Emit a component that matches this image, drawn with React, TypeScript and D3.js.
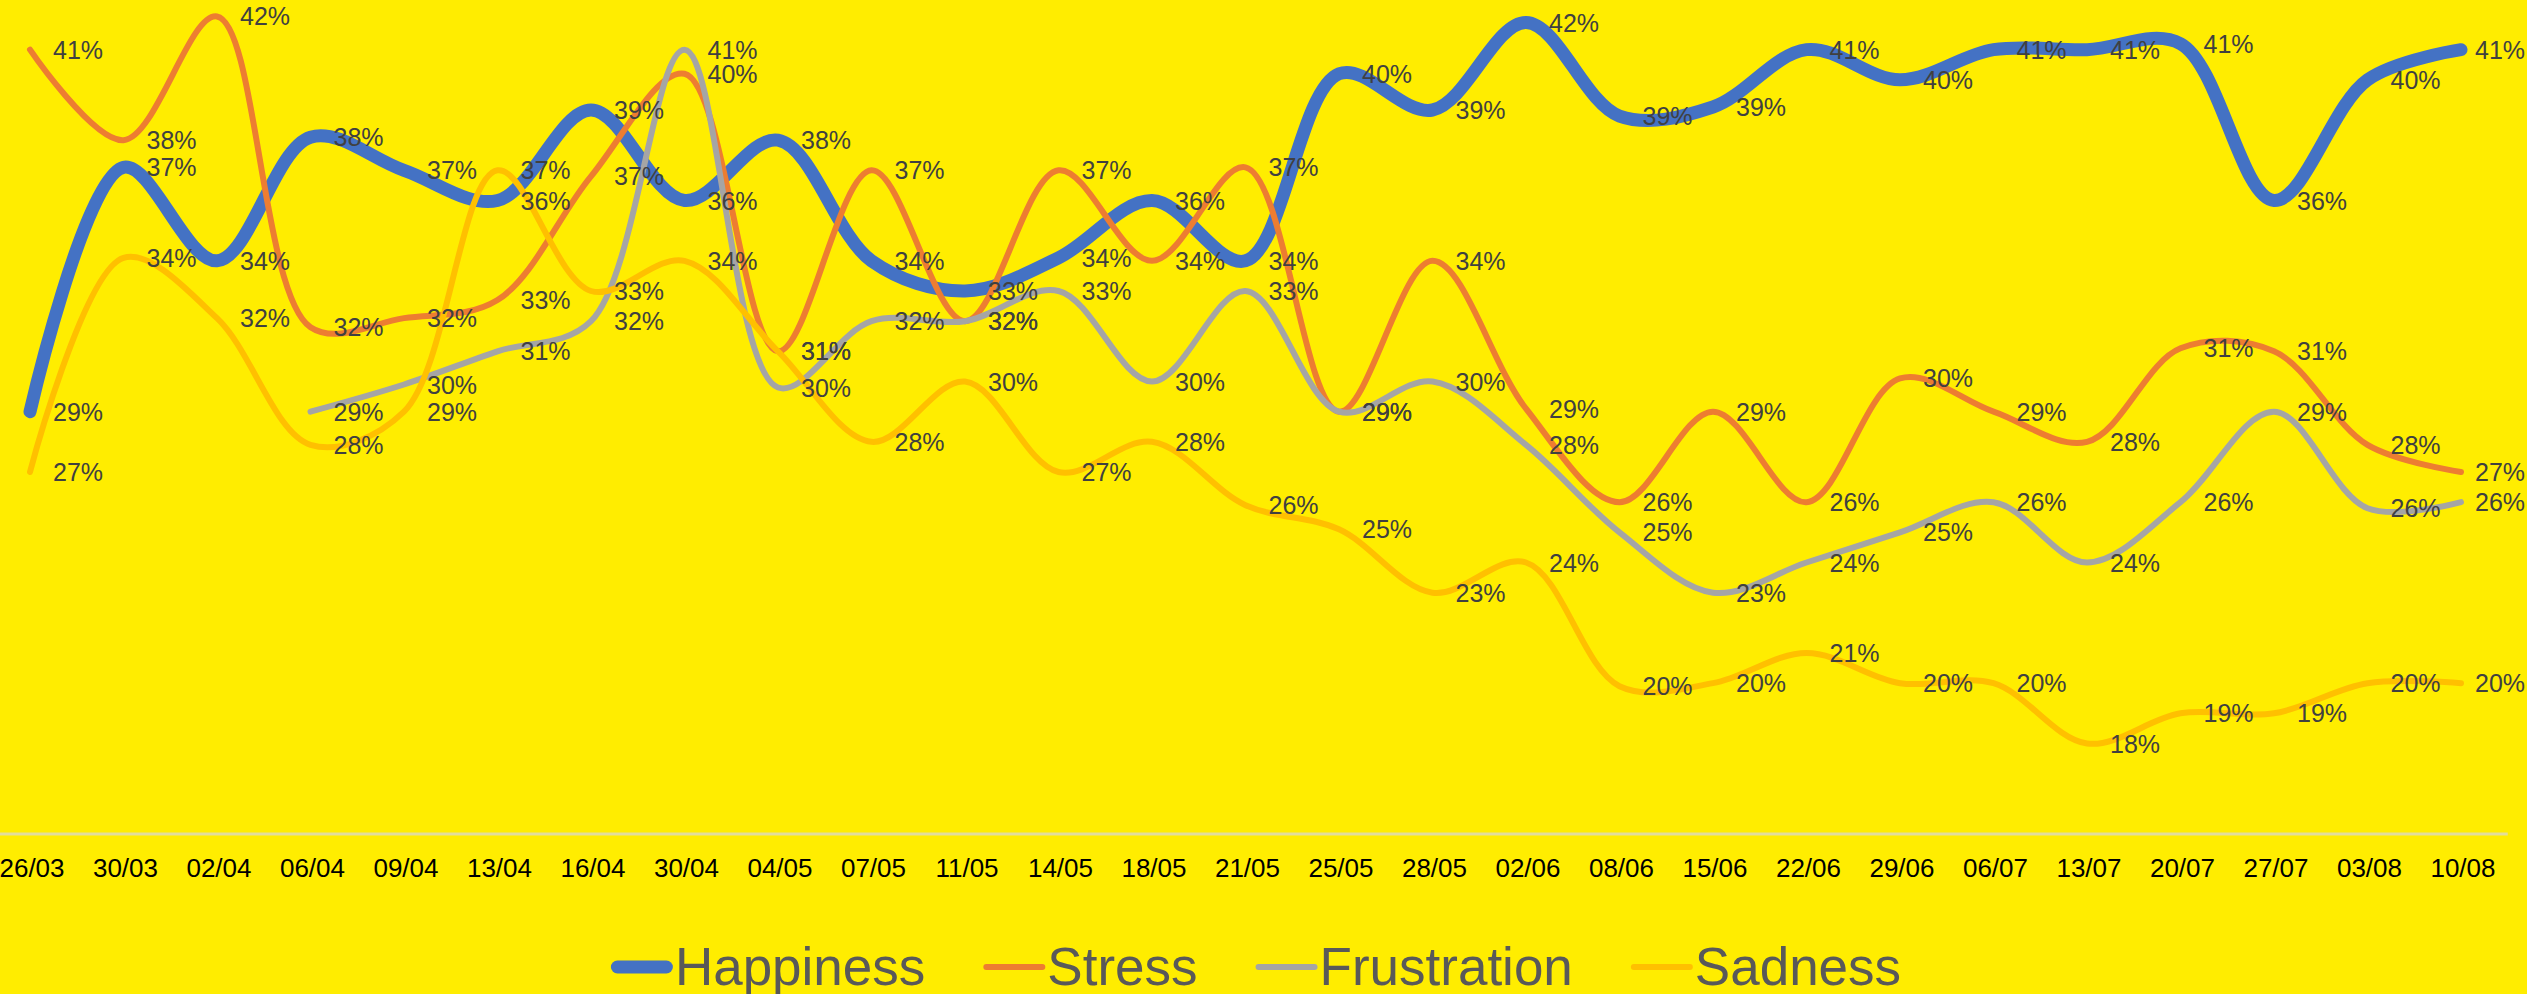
import React, { useEffect, useRef } from "react";
import * as d3 from "d3";

const categories: string[] = [
  "26/03", "30/03", "02/04", "06/04", "09/04", "13/04", "16/04", "30/04", "04/05",
  "07/05", "11/05", "14/05", "18/05", "21/05", "25/05", "28/05", "02/06", "08/06",
  "15/06", "22/06", "29/06", "06/07", "13/07", "20/07", "27/07", "03/08", "10/08",
];

const happiness: (number | null)[] = [
  0.290, 0.371, 0.340, 0.381, 0.370, 0.360, 0.390, 0.360, 0.380, 0.340, 0.330, 0.341, 0.360, 0.340,
  0.402, 0.390, 0.419, 0.388, 0.391, 0.410, 0.400, 0.410, 0.410, 0.412, 0.360, 0.400, 0.410,
];

const stress: (number | null)[] = [
  0.410, 0.380, 0.421, 0.318, 0.321, 0.327, 0.368, 0.402, 0.310, 0.370, 0.320, 0.370, 0.340, 0.371,
  0.290, 0.340, 0.291, 0.260, 0.290, 0.260, 0.301, 0.290, 0.280, 0.311, 0.310, 0.279, 0.270,
];

const frustration: (number | null)[] = [
  null, null, null, 0.290, 0.299, 0.310, 0.320, 0.410, 0.298, 0.320, 0.320, 0.330, 0.300, 0.330,
  0.290, 0.300, 0.279, 0.250, 0.230, 0.240, 0.250, 0.260, 0.240, 0.260, 0.290, 0.258, 0.260,
];

const sadness: (number | null)[] = [
  0.270, 0.341, 0.321, 0.279, 0.290, 0.370, 0.330, 0.340, 0.310, 0.280, 0.300, 0.270, 0.280, 0.259,
  0.251, 0.230, 0.240, 0.199, 0.200, 0.210, 0.200, 0.200, 0.180, 0.190, 0.190, 0.200, 0.200,
];

const seriesNames: string[] = ["Happiness", "Stress", "Frustration", "Sadness"];
const seriesData = [happiness, stress, frustration, sadness];
const seriesColors: string[] = ["#4472C4", "#ED7D31", "#A5A5A5", "#FFC000"];
const seriesWidths: number[] = [13, 6, 6, 6];

const W = 2527;
const H = 994;
const FONT = "'Liberation Sans', Arial, sans-serif";

export default function App() {
  const ref = useRef<SVGSVGElement>(null);

  useEffect(() => {
    const svg = d3.select(ref.current);
    svg.selectAll("*").remove();

    svg.append("rect").attr("width", W).attr("height", H).attr("fill", "#FFED00");

    const x = d3.scalePoint<string>().domain(categories).range([30, 2461]);
    const y = d3.scaleLinear().domain([0.15, 0.45]).range([834, -71]);
    const step = x.step();

    // baseline axis
    svg
      .append("line")
      .attr("x1", (x(categories[0]) as number) - step / 2)
      .attr("x2", (x(categories[categories.length - 1]) as number) + step / 2)
      .attr("y1", y(0.15))
      .attr("y2", y(0.15))
      .attr("stroke", "#E2DD9C")
      .attr("stroke-width", 3);

    // tick labels
    svg
      .append("g")
      .selectAll("text")
      .data(categories)
      .join("text")
      .attr("x", (d) => (x(d) as number) + 2)
      .attr("y", 877)
      .attr("text-anchor", "middle")
      .attr("font-family", FONT)
      .attr("font-size", 26)
      .attr("fill", "#000000")
      .text((d) => d);

    // lines
    const gLines = svg.append("g");
    seriesData.forEach((vals, si) => {
      const pts = categories.map((c, i) => ({ c, v: vals[i] }));
      const line = d3
        .line<{ c: string; v: number | null }>()
        .defined((d) => d.v != null)
        .x((d) => x(d.c) as number)
        .y((d) => y(d.v as number))
        .curve(d3.curveCatmullRom.alpha(0.5));
      gLines
        .append("path")
        .datum(pts)
        .attr("d", line)
        .attr("fill", "none")
        .attr("stroke", seriesColors[si])
        .attr("stroke-width", seriesWidths[si])
        .attr("stroke-linecap", "round")
        .attr("stroke-linejoin", "round");
    });

    // data labels
    const fmt = d3.format(".0%");
    const gLabels = svg.append("g");
    seriesData.forEach((vals) => {
      const pts = categories
        .map((c, i) => ({ c, v: vals[i] }))
        .filter((d) => d.v != null);
      gLabels
        .append("g")
        .selectAll("text")
        .data(pts)
        .join("text")
        .attr("x", (d) => Math.min((x(d.c) as number) + 23, W - 52))
        .attr("y", (d) => y(d.v as number) + 9)
        .attr("font-family", FONT)
        .attr("font-size", 25)
        .attr("fill", "#404040")
        .text((d) => fmt(d.v as number));
    });

    // legend
    const legend = svg.append("g");
    const markerW = 62;
    const gapText = 2;
    const gapEntry = 58;
    const entries = seriesNames.map((name, i) => {
      const g = legend.append("g");
      const t = g
        .append("text")
        .attr("font-family", FONT)
        .attr("font-size", 53)
        .attr("fill", "#595959")
        .attr("y", 985)
        .text(name);
      const tw = (t.node() as SVGTextElement).getComputedTextLength();
      return { g, t, tw, i };
    });
    const total =
      entries.reduce((s, e) => s + markerW + gapText + e.tw, 0) + gapEntry * (entries.length - 1);
    let cx = 1256 - total / 2;
    entries.forEach((e) => {
      const sw = seriesWidths[e.i];
      e.g
        .insert("line", "text")
        .attr("x1", cx + sw / 2)
        .attr("x2", cx + markerW - sw / 2)
        .attr("y1", 967)
        .attr("y2", 967)
        .attr("stroke", seriesColors[e.i])
        .attr("stroke-width", sw)
        .attr("stroke-linecap", "round");
      e.t.attr("x", cx + markerW + gapText);
      cx += markerW + gapText + e.tw + gapEntry;
    });
  }, []);

  return (
    <svg
      ref={ref}
      width={W}
      height={H}
      style={{ position: "absolute", left: 0, top: 0, display: "block" }}
    />
  );
}
